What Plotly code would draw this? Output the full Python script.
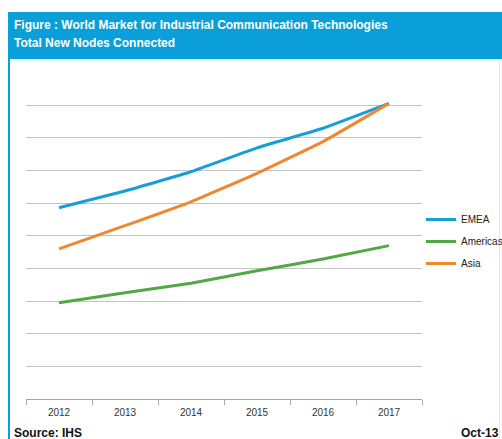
import plotly.graph_objects as go

# Total new nodes connected, by region (relative scale)
years = ["2012", "2013", "2014", "2015", "2016", "2017"]
emea = [5.86, 6.37, 6.96, 7.69, 8.29, 9.05]
americas = [2.95, 3.26, 3.55, 3.93, 4.29, 4.70]
asia = [4.60, 5.31, 6.04, 6.91, 7.88, 9.05]

series_names = ["EMEA", "Americas", "Asia"]
series_values = [emea, americas, asia]
series_colors = ["#189DD9", "#52A845", "#F0872E"]

W, H = 502, 439


def px(x):
    return x / W


def py(y):
    return 1 - y / H


fig = go.Figure()
for name, vals, col in zip(series_names, series_values, series_colors):
    fig.add_trace(go.Scatter(
        x=years, y=vals, name=name, mode="lines", legendgroup=name,
        line=dict(color=col, width=3, shape="spline", smoothing=0.3),
    ))

header_blue = "#0A9FD9"
shapes = [
    # header band
    dict(type="rect", xref="paper", yref="paper",
         x0=px(8), x1=px(503), y0=py(59), y1=py(12),
         fillcolor=header_blue, line_width=0, layer="below"),
    # light rule under the header
    dict(type="line", xref="paper", yref="paper",
         x0=px(10), x1=px(502), y0=py(60), y1=py(60),
         line=dict(color="#D6F2FA", width=1)),
    # left frame edge
    dict(type="line", xref="paper", yref="paper",
         x0=px(9), x1=px(9), y0=py(59), y1=py(439),
         line=dict(color=header_blue, width=2)),
    # right frame edge
    dict(type="line", xref="paper", yref="paper",
         x0=px(499.5), x1=px(499.5), y0=py(60), y1=py(439),
         line=dict(color="#E6E6E6", width=1)),
]

annotations = [
    dict(text="<b>Figure : World Market for Industrial Communication Technologies</b>",
         xref="paper", yref="paper", x=px(12), y=py(25), xanchor="left", yanchor="middle",
         showarrow=False, font=dict(family="Liberation Sans", size=12, color="white")),
    dict(text="<b>Total New Nodes Connected</b>",
         xref="paper", yref="paper", x=px(12), y=py(43), xanchor="left", yanchor="middle",
         showarrow=False, font=dict(family="Liberation Sans", size=12, color="white")),
    dict(text="<b>Source: IHS</b>",
         xref="paper", yref="paper", x=px(12), y=py(433), xanchor="left", yanchor="middle",
         showarrow=False, font=dict(family="Liberation Sans", size=12, color="#111111")),
    dict(text="<b>Oct-13</b>",
         xref="paper", yref="paper", x=px(501), y=py(433), xanchor="right", yanchor="middle",
         showarrow=False, font=dict(family="Liberation Sans", size=12, color="#111111")),
]

fig.update_layout(
    width=W, height=H,
    margin=dict(l=0, r=0, t=0, b=0, autoexpand=False),
    paper_bgcolor="white", plot_bgcolor="white",
    shapes=shapes, annotations=annotations,
    showlegend=True,
    legend=dict(x=px(421), y=py(205), xanchor="left", yanchor="top",
                bgcolor="rgba(0,0,0,0)", font=dict(family="Liberation Sans", size=10, color="#222222"),
                itemwidth=30, traceorder="grouped", tracegroupgap=3),
    xaxis=dict(domain=[px(26), px(422)], type="category", range=[-0.5, 5.5],
               tickson="boundaries", ticks="outside", ticklen=5, tickcolor="#A6A6A6",
               ticklabelstandoff=4,
               showline=True, linecolor="#A6A6A6", linewidth=1, showgrid=False,
               tickfont=dict(family="Liberation Sans", size=10, color="#333333"),
               fixedrange=True),
    yaxis=dict(domain=[py(399.3), py(72.3)], range=[0, 10], dtick=1,
               showgrid=True, gridcolor="#C4C4C4", gridwidth=1,
               showticklabels=False, zeroline=False, showline=False, ticks="",
               fixedrange=True),
)

fig.write_html("out.html")
